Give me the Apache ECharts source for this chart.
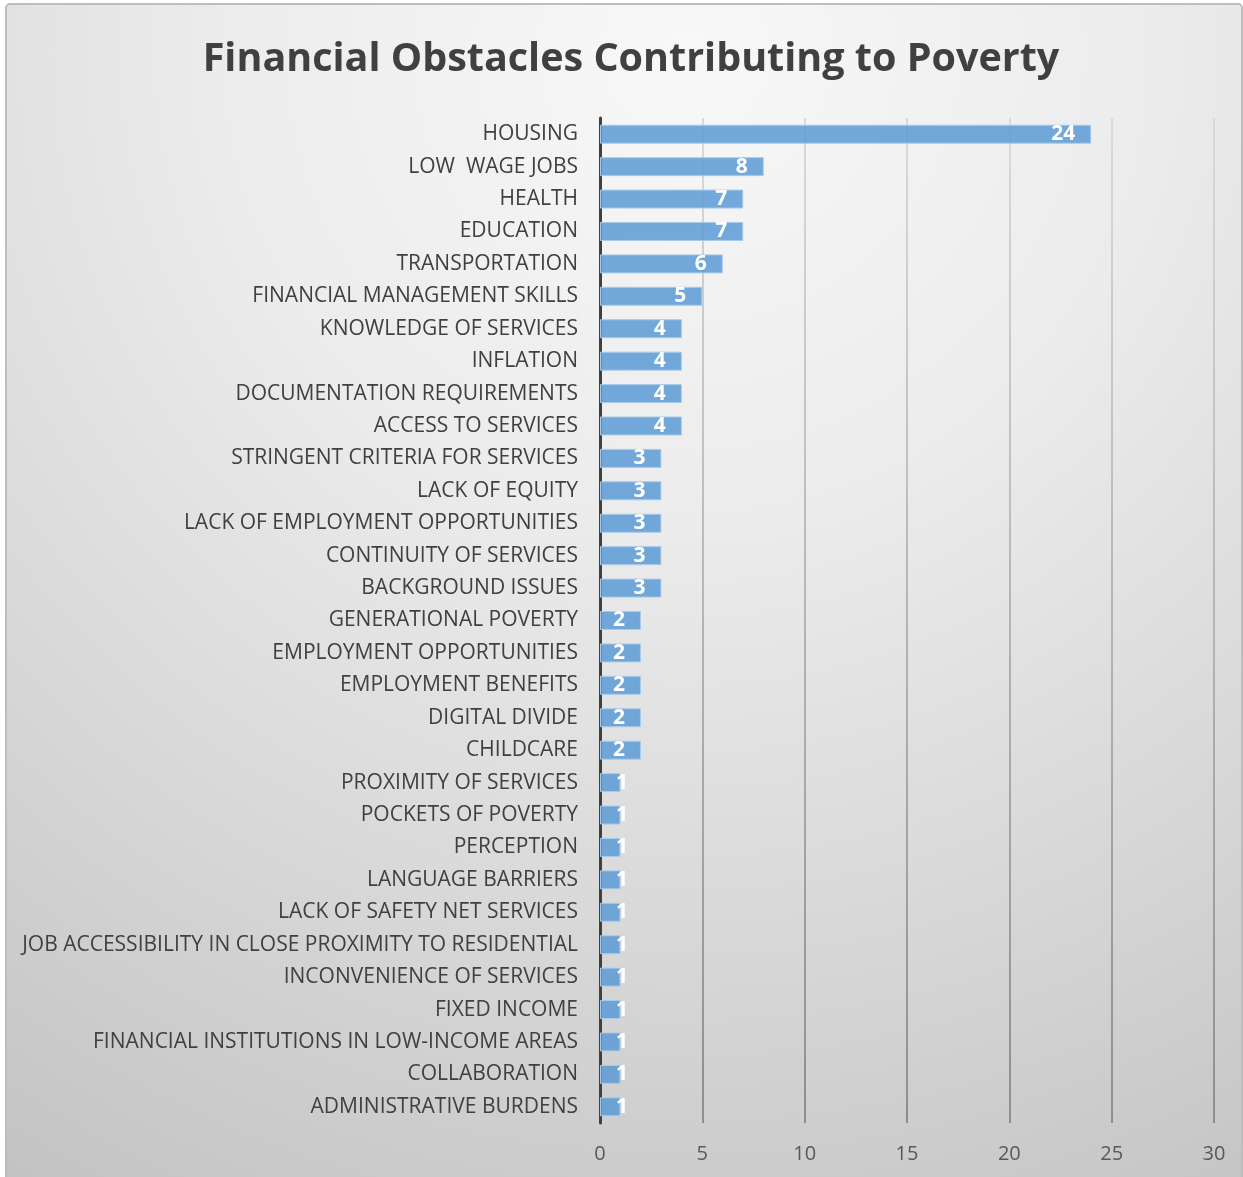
<!DOCTYPE html>
<html>
<head>
<meta charset="utf-8">
<title>Financial Obstacles Contributing to Poverty</title>
<script src="https://cdn.jsdelivr.net/npm/echarts@6/dist/echarts.min.js"></script>
<style>
  html, body { margin: 0; padding: 0; background: #ffffff; }
  #chart { width: 1243px; height: 1177px; }
</style>
</head>
<body>
<div id="chart"></div>
<script>
// Obstacles, listed top to bottom
const categories = [
  'HOUSING',
  'LOW  WAGE JOBS',
  'HEALTH',
  'EDUCATION',
  'TRANSPORTATION',
  'FINANCIAL MANAGEMENT SKILLS',
  'KNOWLEDGE OF SERVICES',
  'INFLATION',
  'DOCUMENTATION REQUIREMENTS',
  'ACCESS TO SERVICES',
  'STRINGENT CRITERIA FOR SERVICES',
  'LACK OF EQUITY',
  'LACK OF EMPLOYMENT OPPORTUNITIES',
  'CONTINUITY OF SERVICES',
  'BACKGROUND ISSUES',
  'GENERATIONAL POVERTY',
  'EMPLOYMENT OPPORTUNITIES',
  'EMPLOYMENT BENEFITS',
  'DIGITAL DIVIDE',
  'CHILDCARE',
  'PROXIMITY OF SERVICES',
  'POCKETS OF POVERTY',
  'PERCEPTION',
  'LANGUAGE BARRIERS',
  'LACK OF SAFETY NET SERVICES',
  'JOB ACCESSIBILITY IN CLOSE PROXIMITY TO RESIDENTIAL',
  'INCONVENIENCE OF SERVICES',
  'FIXED INCOME',
  'FINANCIAL INSTITUTIONS IN LOW-INCOME AREAS',
  'COLLABORATION',
  'ADMINISTRATIVE BURDENS'
];

// Number of mentions per obstacle
const counts = [
  24, 8, 7, 7, 6, 5, 4, 4, 4, 4,
  3, 3, 3, 3, 3,
  2, 2, 2, 2, 2,
  1, 1, 1, 1, 1, 1, 1, 1, 1, 1, 1
];

// Value axis ticks
const xMin = 0;
const xMax = 30;
const xStep = 5;

const FONT = 'Open Sans';
const chart = echarts.init(document.getElementById('chart'), null, { renderer: 'canvas' });

// very short bars keep their label anchored at the bar start
const barData = counts.map(v => ({
  value: v,
  label: v <= 1 ? { position: 'insideLeft', distance: 16 } : undefined
}));

const option = {
  animation: false,
  backgroundColor: '#ffffff',
  graphic: [{
    type: 'rect',
    z: -10,
    silent: true,
    shape: { x: 6, y: 4, width: 1236, height: 1185, r: 4 },
    style: {
      fill: new echarts.graphic.RadialGradient(0.55, 0.04, 1.12, [
        { offset: 0, color: '#f8f8f8' },
        { offset: 0.35, color: '#ececec' },
        { offset: 0.65, color: '#d9d9d9' },
        { offset: 1, color: '#c2c2c2' }
      ]),
      stroke: '#bdbdbd',
      lineWidth: 2
    }
  }],
  title: {
    text: 'Financial Obstacles Contributing to Poverty',
    left: 626,
    top: 35,
    textAlign: 'center',
    textStyle: {
      fontFamily: FONT,
      fontWeight: 'bold',
      fontSize: 39.5,
      color: '#404040'
    }
  },
  grid: {
    left: 600,
    right: 29,
    top: 118,
    bottom: 54,
    containLabel: false
  },
  xAxis: {
    type: 'value',
    min: xMin,
    max: xMax,
    interval: xStep,
    axisLine: { show: false },
    axisTick: { show: false },
    axisLabel: {
      margin: 21,
      fontFamily: FONT,
      fontSize: 20,
      color: '#595959'
    },
    splitLine: {
      show: true,
      lineStyle: {
        width: 2,
        color: new echarts.graphic.LinearGradient(0, 118, 0, 1123, [
          { offset: 0, color: '#dadada' },
          { offset: 1, color: '#8e8e8e' }
        ], true)
      }
    }
  },
  yAxis: {
    type: 'category',
    data: categories,
    inverse: true,
    axisLine: { show: true, lineStyle: { color: '#404040', width: 3 } },
    axisTick: { show: false },
    axisLabel: {
      margin: 22,
      fontFamily: FONT,
      fontSize: 21,
      color: '#404040',
      interval: 0
    }
  },
  series: [{
    type: 'bar',
    data: barData,
    barWidth: 19,
    z: 3,
    itemStyle: {
      color: 'rgba(91, 155, 213, 0.85)',
      borderColor: '#a9cbe9',
      borderWidth: 1
    },
    label: {
      show: true,
      position: 'insideRight',
      distance: 16,
      fontFamily: FONT,
      fontWeight: 'bold',
      fontSize: 21,
      color: '#ffffff'
    }
  }]
};

chart.setOption(option);
</script>
</body>
</html>
